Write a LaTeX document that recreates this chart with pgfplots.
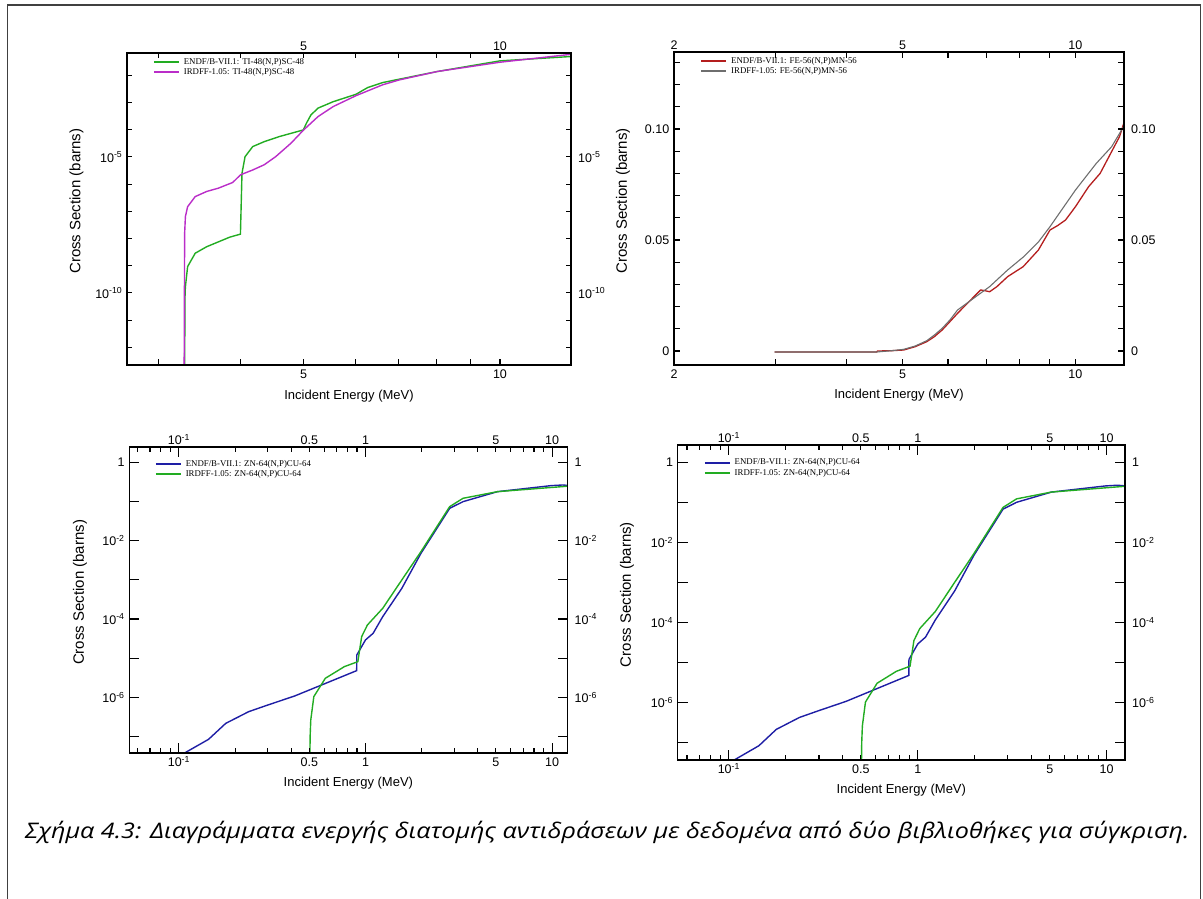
\documentclass[border=0pt]{standalone}
\usepackage{fontspec}
\setmainfont{Liberation Sans}
\newfontfamily\legfont{Liberation Serif}
\newfontfamily\capfont[FakeStretch=1.17]{Open Sans}
\usepackage{pgfplots}
\pgfplotsset{compat=1.18}
\definecolor{cgreen}{RGB}{34,172,34}
\definecolor{cmag}{RGB}{186,45,200}
\definecolor{cred}{RGB}{180,30,30}
\definecolor{cgrey}{RGB}{110,110,110}
\definecolor{cblue}{RGB}{30,30,165}
\pgfplotsset{
  scale only axis,
  axis line style={line width=1.3pt, black},
  tick style={line width=1.1pt, black},
  tick align=inside,
  tick label style={font=\fontsize{12.5}{14}\selectfont, inner sep=0pt},
  legend image code/.code={\draw[#1,line width=1.9pt] (0pt,0pt) -- (25pt,0pt);},
  legend cell align=left,
}
\begin{document}
\begin{tikzpicture}[x=1pt,y=1pt]
\useasboundingbox (0,0) rectangle (1203,899);
\draw[line width=1.2pt, black!75] (7.7,0) -- (7.7,894) -- (1200.5,894) -- (1200.5,0);
% ---------- panel 1
\begin{axis}[at={(127pt,534pt)}, anchor=south west, width=444pt, height=312pt,
    xmode=log, ymode=log, xmin=2.68, xmax=12.85, ymin=2.24e-13, ymax=0.066,
    xtick={3,4,5,6,7,8,9,10}, xticklabels={,,5,,,,,10},
    ytick={1e-12,1e-11,1e-10,1e-9,1e-8,1e-7,1e-6,1e-5,1e-4,1e-3,1e-2},
    yticklabels={,,{10\textsuperscript{-10}},,,,,{10\textsuperscript{-5}},,,},
    xminorticks=false, yminorticks=false, major tick length=5.5pt,
    xticklabel pos=lower, yticklabel pos=left,
    xticklabel style={anchor=base, yshift=-13.5pt},
    yticklabel style={anchor=east, xshift=-4.5pt},
    xlabel={Incident Energy (MeV)},
    xlabel style={at={(axis description cs:0.5,0)}, anchor=base, yshift=-35pt, font=\fontsize{13}{15}\selectfont},
    ylabel={Cross Section (barns)},
    ylabel style={at={(axis description cs:-0.1137,0.525)}, anchor=center, font=\fontsize{15}{17}\selectfont},
    legend style={at={(axis description cs:0.058,0.988)}, anchor=north west, draw=none, fill=none,
      font=\legfont\fontsize{8.8}{9.5}\selectfont, row sep=0.6pt, inner sep=0pt, column sep=3pt, nodes={inner sep=1pt}}]
\addplot[cgreen, line width=1.4pt] coordinates {
 (3.284,1e-13) (3.290,1e-10) (3.294,1.70e-10) (3.320,9.3e-10) (3.41,2.88e-9)
 (3.552,5.0e-9) (3.852,1.12e-8) (4.0,1.45e-8) (4.022,2.5e-6) (4.066,1.02e-5)
 (4.178,2.4e-5) (4.35,3.63e-5) (4.59,5.6e-5) (4.995,9.8e-5) (5.05,1.74e-4)
 (5.13,3.47e-4) (5.26,6.2e-4) (5.55,1.07e-3) (6.015,2.0e-3) (6.27,3.55e-3)
 (6.61,5.4e-3) (7.01,7.2e-3) (8.02,1.38e-2) (10,3.39e-2) (12.85,4.9e-2)};
\addlegendentry{ENDF/B-VII.1: TI-48(N,P)SC-48}
\addplot[cmag, line width=1.4pt] coordinates {
 (3.279,1e-13) (3.285,1.55e-8) (3.294,6.46e-8) (3.32,1.48e-7) (3.41,3.47e-7)
 (3.552,5.37e-7) (3.70,7.08e-7) (3.894,1.15e-6) (4.0,2.19e-6) (4.178,3.31e-6)
 (4.35,5.13e-6) (4.53,1.02e-5) (4.78,3.16e-5) (5.0,9.8e-5) (5.26,3.02e-4)
 (5.55,7.08e-4) (6.015,1.78e-3) (6.61,4.47e-3) (7.01,6.76e-3) (8.02,1.38e-2)
 (10,3.02e-2) (12.85,5.89e-2)};
\addlegendentry{IRDFF-1.05: TI-48(N,P)SC-48}
\end{axis}
\begin{axis}[at={(127pt,534pt)}, anchor=south west, width=444pt, height=312pt,
    xmode=log, ymode=log, xmin=2.68, xmax=12.85, ymin=2.24e-13, ymax=0.066,
    xtick={3,4,5,6,7,8,9,10}, xticklabels={,,5,,,,,10},
    ytick={1e-12,1e-11,1e-10,1e-9,1e-8,1e-7,1e-6,1e-5,1e-4,1e-3,1e-2},
    yticklabels={,,{10\textsuperscript{-10}},,,,,{10\textsuperscript{-5}},,,},
    xminorticks=false, yminorticks=false, major tick length=5.5pt,
    xticklabel pos=upper, yticklabel pos=right,
    xticklabel style={anchor=base, yshift=2pt},
    yticklabel style={anchor=west, xshift=7pt}]
\addplot[draw=none] coordinates {(5,1e-5)};
\end{axis}
% ---------- panel 2
\begin{axis}[at={(674pt,534pt)}, anchor=south west, width=450pt, height=313pt,
    xmode=log, xmin=2, xmax=12.15, ymin=-0.0063, ymax=0.1347,
    xtick={2,3,4,5,6,7,8,9,10}, xticklabels={2,,,5,,,,,10},
    ytick={0,0.01,0.02,0.03,0.04,0.05,0.06,0.07,0.08,0.09,0.10,0.11,0.12,0.13},
    yticklabels={0,,,,,0.05,,,,,0.10,,,},
    xminorticks=false, yminorticks=false, major tick length=6pt,
    xticklabel pos=lower, yticklabel pos=left,
    xticklabel style={anchor=base, yshift=-13.5pt},
    yticklabel style={anchor=east, xshift=-4.5pt},
    xlabel={Incident Energy (MeV)},
    xlabel style={at={(axis description cs:0.5,0)}, anchor=base, yshift=-34pt, font=\fontsize{13}{15}\selectfont},
    ylabel={Cross Section (barns)},
    ylabel style={at={(axis description cs:-0.1133,0.525)}, anchor=center, font=\fontsize{15}{17}\selectfont},
    legend style={at={(axis description cs:0.058,0.988)}, anchor=north west, draw=none, fill=none,
      font=\legfont\fontsize{8.8}{9.5}\selectfont, row sep=0.6pt, inner sep=0pt, column sep=3pt, nodes={inner sep=1pt}}]
\addplot[cred, line width=1.3pt] coordinates {
 (2.994,-0.00045) (4.507,-0.00045) (4.521,0) (4.794,0.00015) (5.022,0.00045)
 (5.26,0.00195) (5.51,0.0042) (5.68,0.00646) (5.86,0.00946) (6.045,0.0132)
 (6.235,0.017) (6.43,0.0205) (6.63,0.024) (6.84,0.0275) (6.95,0.0272)
 (7.09,0.0267) (7.3,0.029) (7.62,0.0335) (8.11,0.038) (8.62,0.0455)
 (9.03,0.0545) (9.31,0.0565) (9.61,0.059) (10.0,0.065) (10.54,0.074)
 (11.04,0.080) (11.56,0.0898) (11.93,0.0965) (12.15,0.1029)};
\addlegendentry{ENDF/B-VII.1: FE-56(N,P)MN-56}
\addplot[cgrey, line width=1.1pt] coordinates {
 (2.994,-0.00045) (4.507,-0.00045) (4.794,0.00015) (5.022,0.00075) (5.26,0.00225)
 (5.51,0.00465) (5.68,0.0072) (5.86,0.0102) (6.045,0.01396) (6.235,0.0185)
 (6.43,0.021) (6.75,0.025) (7.09,0.029) (7.62,0.0365) (8.11,0.0423)
 (8.62,0.0491) (9.03,0.056) (10.0,0.0725) (10.87,0.0845) (11.56,0.092)
 (12.15,0.1014)};
\addlegendentry{IRDFF-1.05: FE-56(N,P)MN-56}
\end{axis}
\begin{axis}[at={(674pt,534pt)}, anchor=south west, width=450pt, height=313pt,
    xmode=log, xmin=2, xmax=12.15, ymin=-0.0063, ymax=0.1347,
    xtick={2,3,4,5,6,7,8,9,10}, xticklabels={2,,,5,,,,,10},
    ytick={0,0.01,0.02,0.03,0.04,0.05,0.06,0.07,0.08,0.09,0.10,0.11,0.12,0.13},
    yticklabels={0,,,,,0.05,,,,,0.10,,,},
    xminorticks=false, yminorticks=false, major tick length=6pt,
    xticklabel pos=upper, yticklabel pos=right,
    xticklabel style={anchor=base, yshift=2pt},
    yticklabel style={anchor=west, xshift=7pt}]
\addplot[draw=none] coordinates {(5,0.05)};
\end{axis}
% ---------- panel 3
\begin{axis}[at={(129.3pt,146pt)}, anchor=south west, width=438.2pt, height=306pt,
    xmode=log, ymode=log, xmin=0.0542, xmax=12.1, ymin=3.75e-8, ymax=2.51,
    xtick={0.1,1,10}, xticklabels={{10\textsuperscript{-1}},1,10},
    extra x ticks={0.5,5}, extra x tick labels={0.5,5}, extra x tick style={major tick length=5pt},
    minor xtick={0.06,0.07,0.08,0.09,0.2,0.3,0.4,0.6,0.7,0.8,0.9,2,3,4,6,7,8,9},
    ytick={1e-7,1e-6,1e-5,1e-4,1e-3,1e-2,0.1,1},
    yticklabels={,{10\textsuperscript{-6}},,{10\textsuperscript{-4}},,{10\textsuperscript{-2}},,1},
    yminorticks=false, major tick length=10pt, minor tick length=5pt,
    xticklabel pos=lower, yticklabel pos=left,
    xticklabel style={anchor=base, yshift=-13.5pt},
    yticklabel style={anchor=east, xshift=-4.5pt},
    xlabel={Incident Energy (MeV)},
    xlabel style={at={(axis description cs:0.5,0)}, anchor=base, yshift=-34pt, font=\fontsize{13}{15}\selectfont},
    ylabel={Cross Section (barns)},
    ylabel style={at={(axis description cs:-0.1125,0.525)}, anchor=center, font=\fontsize{15}{17}\selectfont},
    legend style={at={(axis description cs:0.058,0.9615)}, anchor=north west, draw=none, fill=none,
      font=\legfont\fontsize{8.8}{9.5}\selectfont, row sep=0.6pt, inner sep=0pt, column sep=3pt, nodes={inner sep=1pt}}]
\addplot[cblue, line width=1.4pt] coordinates {
 (0.1,3.1e-8) (0.1442,8.4e-8) (0.1783,2.15e-7) (0.2366,4.28e-7) (0.2999,6.34e-7)
 (0.4173,1.077e-6) (0.554,1.87e-6) (0.897,4.79e-6) (0.898,1.2e-5) (1.0,2.92e-5)
 (1.099,4.32e-5) (1.237,1.15e-4) (1.566,6.1e-4) (1.984,4.8e-3) (2.827,0.0679)
 (3.335,0.1006) (5.10,0.181) (9.88,0.258) (11.39,0.268) (12.6,0.258)};
\addlegendentry{ENDF/B-VII.1: ZN-64(N,P)CU-64}
\addplot[cgreen, line width=1.4pt] coordinates {
 (0.4994,1e-9) (0.505,1.0e-7) (0.509,2.62e-7) (0.5285,1.035e-6) (0.609,3.05e-6)
 (0.771,6.07e-6) (0.910,8.13e-6) (0.954,3.55e-5) (1.024,7.05e-5) (1.237,1.88e-4)
 (1.566,1.0e-3) (1.984,5.3e-3) (2.827,0.075) (3.335,0.1225) (5.10,0.181) (12.6,0.253)};
\addlegendentry{IRDFF-1.05: ZN-64(N,P)CU-64}
\end{axis}
\begin{axis}[at={(129.3pt,146pt)}, anchor=south west, width=438.2pt, height=306pt,
    xmode=log, ymode=log, xmin=0.0542, xmax=12.1, ymin=3.75e-8, ymax=2.51,
    xtick={0.1,1,10}, xticklabels={{10\textsuperscript{-1}},1,10},
    extra x ticks={0.5,5}, extra x tick labels={0.5,5}, extra x tick style={major tick length=5pt},
    minor xtick={0.06,0.07,0.08,0.09,0.2,0.3,0.4,0.6,0.7,0.8,0.9,2,3,4,6,7,8,9},
    ytick={1e-7,1e-6,1e-5,1e-4,1e-3,1e-2,0.1,1},
    yticklabels={,{10\textsuperscript{-6}},,{10\textsuperscript{-4}},,{10\textsuperscript{-2}},,1},
    yminorticks=false, major tick length=10pt, minor tick length=5pt,
    xticklabel pos=upper, yticklabel pos=right,
    xticklabel style={anchor=base, yshift=2pt},
    yticklabel style={anchor=west, xshift=7pt}]
\addplot[draw=none] coordinates {(1,1e-3)};
\end{axis}
% ---------- panel 4
\begin{axis}[at={(677.7pt,139pt)}, anchor=south west, width=447.3pt, height=315pt,
    xmode=log, ymode=log, xmin=0.0536, xmax=12.5, ymin=3.7e-8, ymax=2.71,
    xtick={0.1,1,10}, xticklabels={{10\textsuperscript{-1}},1,10},
    extra x ticks={0.5,5}, extra x tick labels={0.5,5}, extra x tick style={major tick length=5pt},
    minor xtick={0.06,0.07,0.08,0.09,0.2,0.3,0.4,0.6,0.7,0.8,0.9,2,3,4,6,7,8,9},
    ytick={1e-7,1e-6,1e-5,1e-4,1e-3,1e-2,0.1,1},
    yticklabels={,{10\textsuperscript{-6}},,{10\textsuperscript{-4}},,{10\textsuperscript{-2}},,1},
    yminorticks=false, major tick length=10pt, minor tick length=5pt,
    xticklabel pos=lower, yticklabel pos=left,
    xticklabel style={anchor=base, yshift=-13.5pt},
    yticklabel style={anchor=east, xshift=-4.5pt},
    xlabel={Incident Energy (MeV)},
    xlabel style={at={(axis description cs:0.5,0)}, anchor=base, yshift=-34pt, font=\fontsize{13}{15}\selectfont},
    ylabel={Cross Section (barns)},
    ylabel style={at={(axis description cs:-0.1134,0.525)}, anchor=center, font=\fontsize{15}{17}\selectfont},
    legend style={at={(axis description cs:0.058,0.960)}, anchor=north west, draw=none, fill=none,
      font=\legfont\fontsize{8.8}{9.5}\selectfont, row sep=0.6pt, inner sep=0pt, column sep=3pt, nodes={inner sep=1pt}}]
\addplot[cblue, line width=1.4pt] coordinates {
 (0.1,3.1e-8) (0.1442,8.4e-8) (0.1783,2.15e-7) (0.2366,4.28e-7) (0.2999,6.34e-7)
 (0.4173,1.077e-6) (0.554,1.87e-6) (0.897,4.79e-6) (0.898,1.2e-5) (1.0,2.92e-5)
 (1.099,4.32e-5) (1.237,1.15e-4) (1.566,6.1e-4) (1.984,4.8e-3) (2.827,0.0679)
 (3.335,0.1006) (5.10,0.181) (9.88,0.258) (11.39,0.268) (12.6,0.258)};
\addlegendentry{ENDF/B-VII.1: ZN-64(N,P)CU-64}
\addplot[cgreen, line width=1.4pt] coordinates {
 (0.4994,1e-9) (0.505,1.0e-7) (0.509,2.62e-7) (0.5285,1.035e-6) (0.609,3.05e-6)
 (0.771,6.07e-6) (0.910,8.13e-6) (0.954,3.55e-5) (1.024,7.05e-5) (1.237,1.88e-4)
 (1.566,1.0e-3) (1.984,5.3e-3) (2.827,0.075) (3.335,0.1225) (5.10,0.181) (12.6,0.253)};
\addlegendentry{IRDFF-1.05: ZN-64(N,P)CU-64}
\end{axis}
\begin{axis}[at={(677.7pt,139pt)}, anchor=south west, width=447.3pt, height=315pt,
    xmode=log, ymode=log, xmin=0.0536, xmax=12.5, ymin=3.7e-8, ymax=2.71,
    xtick={0.1,1,10}, xticklabels={{10\textsuperscript{-1}},1,10},
    extra x ticks={0.5,5}, extra x tick labels={0.5,5}, extra x tick style={major tick length=5pt},
    minor xtick={0.06,0.07,0.08,0.09,0.2,0.3,0.4,0.6,0.7,0.8,0.9,2,3,4,6,7,8,9},
    ytick={1e-7,1e-6,1e-5,1e-4,1e-3,1e-2,0.1,1},
    yticklabels={,{10\textsuperscript{-6}},,{10\textsuperscript{-4}},,{10\textsuperscript{-2}},,1},
    yminorticks=false, major tick length=10pt, minor tick length=5pt,
    xticklabel pos=upper, yticklabel pos=right,
    xticklabel style={anchor=base, yshift=2pt},
    yticklabel style={anchor=west, xshift=7pt}]
\addplot[draw=none] coordinates {(1,1e-3)};
\end{axis}
% ---------- caption
\node[anchor=base west, inner sep=0pt] at (25,60.7)
 {\capfont\itshape\fontsize{21.5}{25}\selectfont Σχήμα 4.3: Διαγράμματα ενεργής διατομής αντιδράσεων με δεδομένα από δύο βιβλιοθήκες για σύγκριση.};
\end{tikzpicture}
\end{document}
